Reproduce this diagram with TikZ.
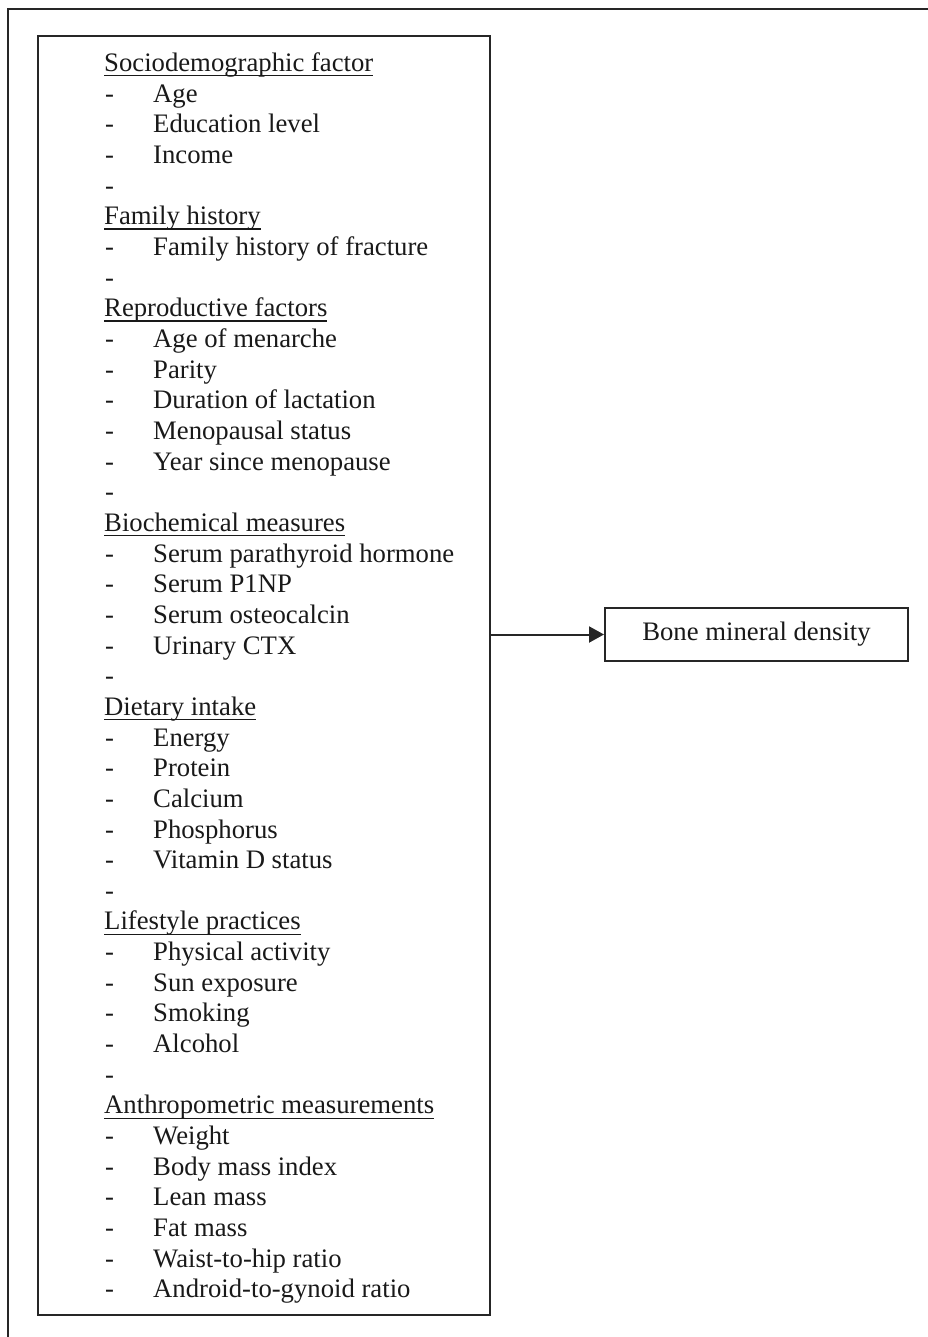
\documentclass[tikz,border=0pt]{standalone}
\usepackage{fontspec}
\setmainfont{Liberation Serif}
\usetikzlibrary{arrows.meta}
\newcommand\myul[1]{\setbox0\hbox{#1}\rlap{\rule[-5pt]{\wd0}{1.3pt}}\box0}
\begin{document}
\begin{tikzpicture}[x=1pt,y=-1pt,
  txt/.style={inner sep=0pt,anchor=base west,font=\fontsize{26.7}{30.7}\selectfont,text=black!90},
  hd/.style={txt},
  dsh/.style={txt},
  itm/.style={txt},
  frame/.style={draw=black!85,line width=2.2pt},
  boxst/.style={draw=black!85,line width=2pt}]
\useasboundingbox (0,0) rectangle (927,1337);
\draw[frame] (8,9) rectangle (940,1350);
\node[boxst,anchor=north west,minimum width=452pt,minimum height=1279pt,inner sep=0pt] (list) at (37,35) {};
\node[boxst,anchor=north west,minimum width=303pt,minimum height=53pt,inner sep=0pt,font=\fontsize{26.7}{30.7}\selectfont,text=black!90] (bmd) at (604,607) {Bone mineral density};
\draw[line width=2pt,draw=black!85,-{Triangle[length=15pt,width=16pt]}] (list.east |- bmd.west) -- (bmd.west);
% Sociodemographic
\node[hd] (h1) at (104,{71.5+30.66*0}) {\myul{Sociodemographic factor}};
\node[dsh] (d1) at (105,{71.5+30.66*1}) {-}; \node[itm] (i1) at (153,{71.5+30.66*1}) {Age};
\node[dsh] (d2) at (105,{71.5+30.66*2}) {-}; \node[itm] (i2) at (153,{71.5+30.66*2}) {Education level};
\node[dsh] (d3) at (105,{71.5+30.66*3}) {-}; \node[itm] (i3) at (153,{71.5+30.66*3}) {Income};
\node[dsh] (d4) at (105,{71.5+30.66*4}) {-};
% Family history
\node[hd] (h2) at (104,{71.5+30.66*5}) {\myul{Family history}};
\node[dsh] (d5) at (105,{71.5+30.66*6}) {-}; \node[itm] (i5) at (153,{71.5+30.66*6}) {Family history of fracture};
\node[dsh] (d6) at (105,{71.5+30.66*7}) {-};
% Reproductive
\node[hd] (h3) at (104,{71.5+30.66*8}) {\myul{Reproductive factors}};
\node[dsh] (d7) at (105,{71.5+30.66*9}) {-}; \node[itm] (i7) at (153,{71.5+30.66*9}) {Age of menarche};
\node[dsh] (d8) at (105,{71.5+30.66*10}) {-}; \node[itm] (i8) at (153,{71.5+30.66*10}) {Parity};
\node[dsh] (d9) at (105,{71.5+30.66*11}) {-}; \node[itm] (i9) at (153,{71.5+30.66*11}) {Duration of lactation};
\node[dsh] (d10) at (105,{71.5+30.66*12}) {-}; \node[itm] (i10) at (153,{71.5+30.66*12}) {Menopausal status};
\node[dsh] (d11) at (105,{71.5+30.66*13}) {-}; \node[itm] (i11) at (153,{71.5+30.66*13}) {Year since menopause};
\node[dsh] (d12) at (105,{71.5+30.66*14}) {-};
% Biochemical
\node[hd] (h4) at (104,{71.5+30.66*15}) {\myul{Biochemical measures}};
\node[dsh] (d13) at (105,{71.5+30.66*16}) {-}; \node[itm] (i13) at (153,{71.5+30.66*16}) {Serum parathyroid hormone};
\node[dsh] (d14) at (105,{71.5+30.66*17}) {-}; \node[itm] (i14) at (153,{71.5+30.66*17}) {Serum P1NP};
\node[dsh] (d15) at (105,{71.5+30.66*18}) {-}; \node[itm] (i15) at (153,{71.5+30.66*18}) {Serum osteocalcin};
\node[dsh] (d16) at (105,{71.5+30.66*19}) {-}; \node[itm] (i16) at (153,{71.5+30.66*19}) {Urinary CTX};
\node[dsh] (d17) at (105,{71.5+30.66*20}) {-};
% Dietary
\node[hd] (h5) at (104,{71.5+30.66*21}) {\myul{Dietary intake}};
\node[dsh] (d18) at (105,{71.5+30.66*22}) {-}; \node[itm] (i18) at (153,{71.5+30.66*22}) {Energy};
\node[dsh] (d19) at (105,{71.5+30.66*23}) {-}; \node[itm] (i19) at (153,{71.5+30.66*23}) {Protein};
\node[dsh] (d20) at (105,{71.5+30.66*24}) {-}; \node[itm] (i20) at (153,{71.5+30.66*24}) {Calcium};
\node[dsh] (d21) at (105,{71.5+30.66*25}) {-}; \node[itm] (i21) at (153,{71.5+30.66*25}) {Phosphorus};
\node[dsh] (d22) at (105,{71.5+30.66*26}) {-}; \node[itm] (i22) at (153,{71.5+30.66*26}) {Vitamin D status};
\node[dsh] (d23) at (105,{71.5+30.66*27}) {-};
% Lifestyle
\node[hd] (h6) at (104,{71.5+30.66*28}) {\myul{Lifestyle practices}};
\node[dsh] (d24) at (105,{71.5+30.66*29}) {-}; \node[itm] (i24) at (153,{71.5+30.66*29}) {Physical activity};
\node[dsh] (d25) at (105,{71.5+30.66*30}) {-}; \node[itm] (i25) at (153,{71.5+30.66*30}) {Sun exposure};
\node[dsh] (d26) at (105,{71.5+30.66*31}) {-}; \node[itm] (i26) at (153,{71.5+30.66*31}) {Smoking};
\node[dsh] (d27) at (105,{71.5+30.66*32}) {-}; \node[itm] (i27) at (153,{71.5+30.66*32}) {Alcohol};
\node[dsh] (d28) at (105,{71.5+30.66*33}) {-};
% Anthropometric
\node[hd] (h7) at (104,{71.5+30.66*34}) {\myul{Anthropometric measurements}};
\node[dsh] (d29) at (105,{71.5+30.66*35}) {-}; \node[itm] (i29) at (153,{71.5+30.66*35}) {Weight};
\node[dsh] (d30) at (105,{71.5+30.66*36}) {-}; \node[itm] (i30) at (153,{71.5+30.66*36}) {Body mass index};
\node[dsh] (d31) at (105,{71.5+30.66*37}) {-}; \node[itm] (i31) at (153,{71.5+30.66*37}) {Lean mass};
\node[dsh] (d32) at (105,{71.5+30.66*38}) {-}; \node[itm] (i32) at (153,{71.5+30.66*38}) {Fat mass};
\node[dsh] (d33) at (105,{71.5+30.66*39}) {-}; \node[itm] (i33) at (153,{71.5+30.66*39}) {Waist-to-hip ratio};
\node[dsh] (d34) at (105,{71.5+30.66*40}) {-}; \node[itm] (i34) at (153,{71.5+30.66*40}) {Android-to-gynoid ratio};
\end{tikzpicture}
\end{document}
